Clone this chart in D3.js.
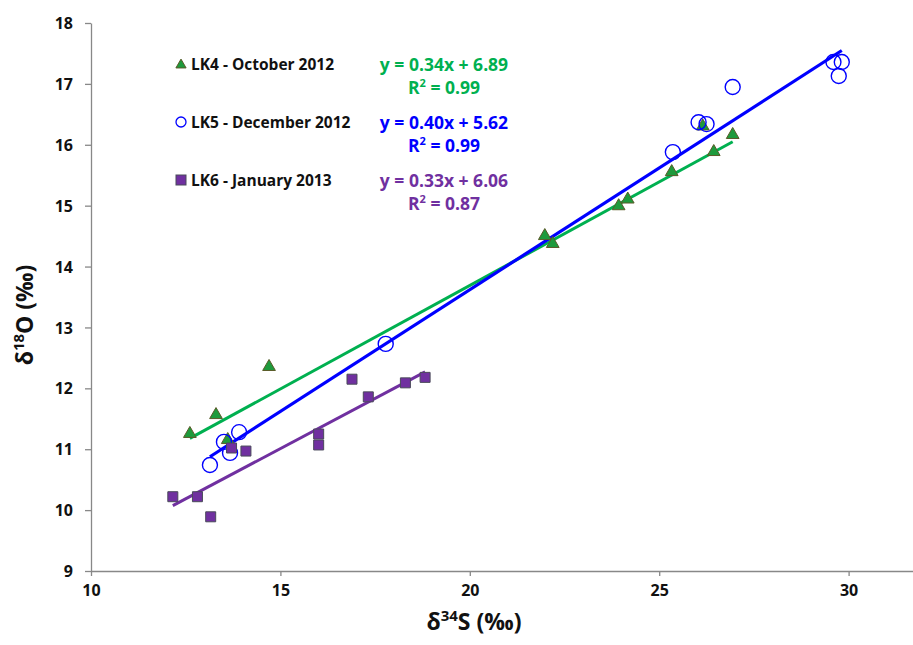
<!DOCTYPE html>
<html>
<head>
<meta charset="utf-8">
<script src="https://cdn.jsdelivr.net/npm/d3@7"></script>
<style>
  body { margin: 0; background: #fff; }
  svg { font-family: "Open Sans", sans-serif; font-weight: bold; }
</style>
</head>
<body>
<svg width="913" height="645"></svg>
<script>
// LK4 - October 2012
const lk4X = [12.61, 13.30, 13.61, 14.70, 21.98, 22.19, 23.93, 24.17, 25.33, 26.15, 26.44, 26.94];
const lk4Y = [11.27, 11.58, 11.17, 12.37, 14.52, 14.39, 15.01, 15.12, 15.57, 16.32, 15.90, 16.18];
// LK5 - December 2012
const lk5X = [13.14, 13.51, 13.67, 13.91, 17.78, 25.36, 26.04, 26.25, 26.94, 29.60, 29.82, 29.74];
const lk5Y = [10.74, 11.12, 10.94, 11.28, 12.73, 15.88, 16.37, 16.34, 16.95, 17.36, 17.36, 17.13];
// LK6 - January 2013
const lk6X = [12.16, 12.81, 13.16, 13.71, 14.09, 16.01, 16.01, 16.89, 17.32, 18.30, 18.82];
const lk6Y = [10.22, 10.22, 9.89, 11.02, 10.97, 11.25, 11.07, 12.15, 11.86, 12.09, 12.18];

const seriesNames = ["LK4 - October 2012", "LK5 - December 2012", "LK6 - January 2013"];
const slopes = [0.34, 0.40, 0.33];
const intercepts = [6.89, 5.62, 6.06];
const r2 = ["0.99", "0.99", "0.87"];

const xTicks = [10, 15, 20, 25, 30];
const yTicks = [9, 10, 11, 12, 13, 14, 15, 16, 17, 18];

const svg = d3.select("svg");
const x = d3.scaleLinear().domain([10, 31.7]).range([91, 913]);
const y = d3.scaleLinear().domain([9, 18]).range([571, 23]);

const axisColor = "#888";

// axes
const gx = svg.append("g").attr("transform", `translate(0,${y(9)})`)
    .call(d3.axisBottom(x).tickValues(xTicks).tickSize(5).tickSizeOuter(0).tickPadding(9));
const gy = svg.append("g").attr("transform", `translate(${x(10)},0)`)
    .call(d3.axisLeft(y).tickValues(yTicks).tickSize(6).tickSizeOuter(0).tickPadding(12));

[gx, gy].forEach(g => {
    g.select(".domain").attr("stroke", axisColor).attr("stroke-width", 1.3);
    g.selectAll(".tick line").attr("stroke", axisColor).attr("stroke-width", 1.3);
    g.selectAll("text").attr("fill", "#111").style("font-size", "16px")
        .style("font-family", "'Open Sans', sans-serif").style("font-weight", "bold");
});
gy.selectAll("text").attr("dy", "0.35em");

// axis titles
const xt = svg.append("text").attr("x", 474).attr("y", 630).attr("text-anchor", "middle")
    .style("font-size", "23px").attr("fill", "#111");
xt.append("tspan").text("δ");
xt.append("tspan").attr("dy", -9).style("font-size", "15px").text("34");
xt.append("tspan").attr("dy", 9).text("S (‰)");

const yt = svg.append("text").attr("transform", "translate(33,315) rotate(-90)")
    .attr("text-anchor", "middle").style("font-size", "23px").attr("fill", "#111");
yt.append("tspan").text("δ");
yt.append("tspan").attr("dy", -9).style("font-size", "15px").text("18");
yt.append("tspan").attr("dy", 9).text("O (‰)");

const lineColors = ["#00B050", "#0000FF", "#7030A0"];
const allX = [lk4X, lk5X, lk6X];

// trendlines
allX.forEach((xs, i) => {
    const ext = d3.extent(xs);
    svg.append("line")
        .attr("x1", x(ext[0])).attr("y1", y(slopes[i] * ext[0] + intercepts[i]))
        .attr("x2", x(ext[1])).attr("y2", y(slopes[i] * ext[1] + intercepts[i]))
        .attr("stroke", lineColors[i]).attr("stroke-width", i === 1 ? 3.2 : 3);
});

const tri = d3.symbol().type(d3.symbolTriangle).size(70);
const sq = d3.symbol().type(d3.symbolSquare).size(100);

// LK4 triangles
svg.append("g").selectAll("path").data(d3.zip(lk4X, lk4Y)).join("path")
    .attr("d", tri).attr("transform", d => `translate(${x(d[0])},${y(d[1]) + 1})`)
    .attr("fill", "#1E9A3C").attr("stroke", "#5A5A28").attr("stroke-width", 1);

// LK5 circles
svg.append("g").selectAll("circle").data(d3.zip(lk5X, lk5Y)).join("circle")
    .attr("cx", d => x(d[0])).attr("cy", d => y(d[1])).attr("r", 7.5)
    .attr("fill", "none").attr("stroke", "#0000FF").attr("stroke-width", 1.4);

// LK6 squares
svg.append("g").selectAll("path").data(d3.zip(lk6X, lk6Y)).join("path")
    .attr("d", sq).attr("transform", d => `translate(${x(d[0])},${y(d[1])})`)
    .attr("fill", "#7030A0").attr("stroke", "#4A4A5A").attr("stroke-width", 1);

// legend and equations
const legendY = [64, 122, 180];
legendY.forEach((ly, i) => {
    if (i === 0) {
        svg.append("path").attr("d", d3.symbol().type(d3.symbolTriangle).size(45))
            .attr("transform", `translate(181,${ly + 1})`)
            .attr("fill", "#1E9A3C").attr("stroke", "#5A5A28").attr("stroke-width", 1);
    } else if (i === 1) {
        svg.append("circle").attr("cx", 181).attr("cy", ly).attr("r", 5)
            .attr("fill", "none").attr("stroke", "#0000FF").attr("stroke-width", 1.3);
    } else {
        svg.append("rect").attr("x", 176).attr("y", ly - 5).attr("width", 10).attr("height", 10)
            .attr("fill", "#7030A0").attr("stroke", "#4A4A5A").attr("stroke-width", 1);
    }
    svg.append("text").attr("x", 191).attr("y", ly + 6)
        .style("font-size", "15.5px").attr("fill", "#111").text(seriesNames[i]);

    svg.append("text").attr("x", 444).attr("y", ly + 7).attr("text-anchor", "middle")
        .style("font-size", "17.5px").attr("fill", lineColors[i])
        .text(`y = ${slopes[i].toFixed(2)}x + ${intercepts[i].toFixed(2)}`);
    const rt = svg.append("text").attr("x", 444).attr("y", ly + 30).attr("text-anchor", "middle")
        .style("font-size", "17.5px").attr("fill", lineColors[i]);
    rt.append("tspan").text("R");
    rt.append("tspan").attr("dy", -7).style("font-size", "11px").text("2");
    rt.append("tspan").attr("dy", 7).text(` = ${r2[i]}`);
});
</script>
</body>
</html>
